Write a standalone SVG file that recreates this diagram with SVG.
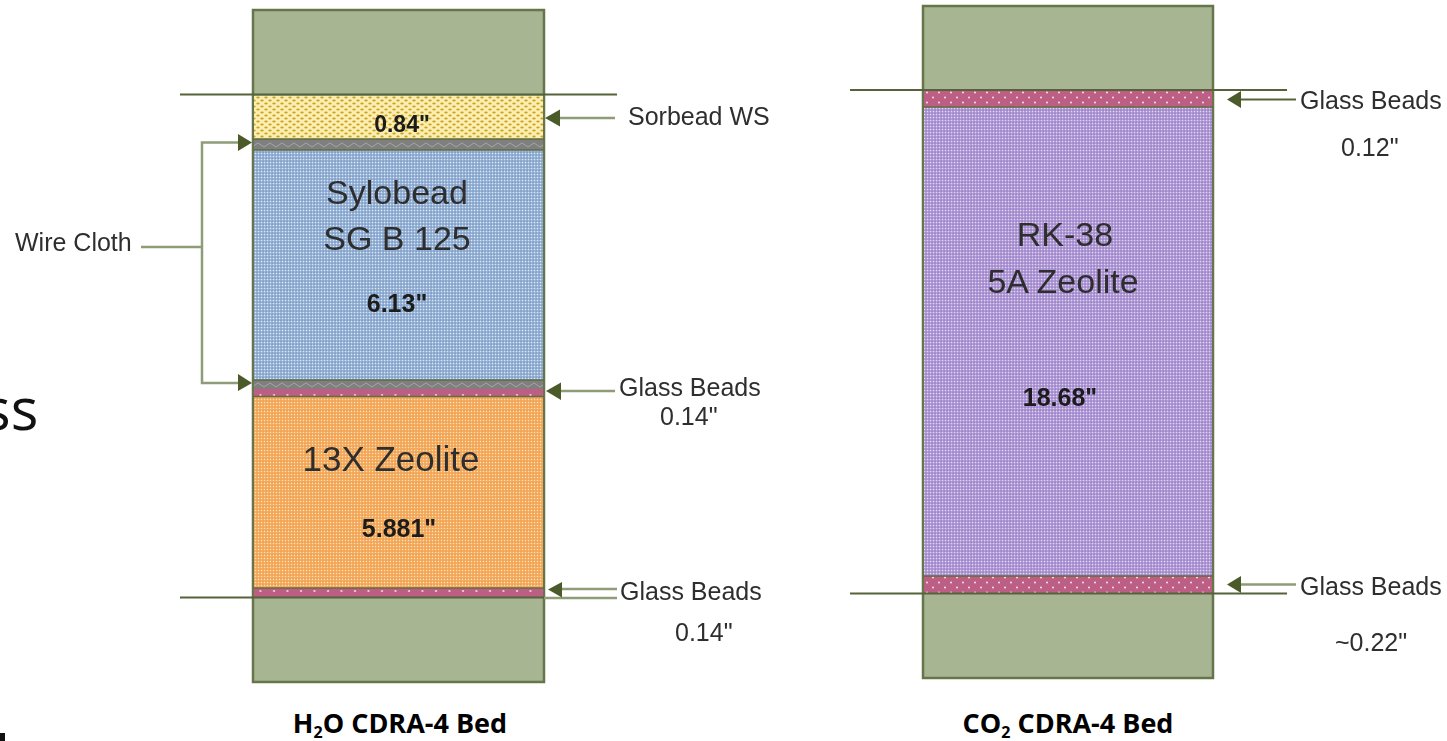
<svg xmlns="http://www.w3.org/2000/svg" width="1447" height="741" viewBox="0 0 1447 741">
<style>
text{font-family:"Liberation Sans",Arial,sans-serif;fill:#2e2e2e}
.soft{filter:url(#soft)}
.lb{font-size:25px}
.big{font-size:34px;text-anchor:middle}
.val{font-size:25px;font-weight:bold;text-anchor:middle;fill:#1a1a1a}
.cap{font-family:"Open Sans","Noto Sans",sans-serif;font-size:27px;font-weight:bold;fill:#000;text-anchor:middle}
.sub{font-size:16px}
.box{stroke:#66754a;stroke-width:2.500}
.ln{stroke:#55623a;stroke-width:2;fill:none}
.lt{stroke:#8f9c78;stroke-width:2.500;fill:none}
.hd{fill:#4a5a28}
</style>
<defs>
<filter id="soft" x="-5%" y="-10%" width="110%" height="120%"><feGaussianBlur stdDeviation="0.45"/></filter>
<pattern id="pY" width="8" height="6" patternUnits="userSpaceOnUse"><rect width="8" height="6" fill="#fbeeb0"/><ellipse cx="2" cy="1.5" rx="1.7" ry="1" fill="#c9a224"/><ellipse cx="6" cy="4.500" rx="1.7" ry="1" fill="#c9a224"/></pattern>
<pattern id="pB" width="3" height="3" patternUnits="userSpaceOnUse"><rect width="3" height="3" fill="#9db8da"/><rect width="1" height="1" fill="#dfe8f2"/><rect x="1.500" y="1.500" width="1.200" height="1.200" fill="#6385b4"/></pattern>
<pattern id="pO" width="3" height="3" patternUnits="userSpaceOnUse"><rect width="3" height="3" fill="#f6b066"/><rect width="1" height="1" fill="#fde2c0"/><rect x="1.500" y="1.500" width="1.200" height="1.200" fill="#ea9640"/></pattern>
<pattern id="pV" width="3" height="3" patternUnits="userSpaceOnUse"><rect width="3" height="3" fill="#b6a0da"/><rect width="1" height="1" fill="#e0d6f0"/><rect x="1.500" y="1.500" width="1.200" height="1.200" fill="#8367b8"/></pattern>
<pattern id="pP" width="13.500" height="7" patternUnits="userSpaceOnUse"><rect width="13.500" height="7" fill="#bd5f85"/><circle cx="4" cy="3" r="1" fill="#f6e3ec"/></pattern>
<pattern id="pP2" width="12" height="10" patternUnits="userSpaceOnUse"><rect width="12" height="10" fill="#bd5f85"/><circle cx="3" cy="2.500" r="1" fill="#f6e3ec"/><circle cx="9" cy="7.500" r="1" fill="#f6e3ec"/></pattern>
<pattern id="pG" width="12" height="10" patternUnits="userSpaceOnUse"><rect width="12" height="10" fill="#7f7f7f"/><path d="M0 7L6 3L12 7" stroke="#a5a5a5" stroke-width="1" fill="none"/></pattern>
</defs>

<g id="ss-fragment"><text x="-17" y="430" font-size="58" style="font-family:'Open Sans','Noto Sans',sans-serif;fill:#111">ss</text><rect x="0" y="733" width="5" height="8" fill="#111"/></g>

<g id="h2o-bed">
<rect class="box" x="253" y="10" width="291" height="672" fill="#a7b592"/>
<rect x="254" y="96" width="289" height="43" fill="url(#pY)"/>
<rect x="254" y="139" width="289" height="11" fill="url(#pG)"/>
<rect x="254" y="150" width="289" height="230" fill="url(#pB)"/>
<rect x="254" y="380" width="289" height="10" fill="url(#pG)"/>
<rect x="254" y="389" width="289" height="7" fill="url(#pP)"/>
<rect x="254" y="396" width="289" height="192" fill="url(#pO)"/>
<rect x="254" y="588" width="289" height="9" fill="url(#pP)"/>
<path d="M253 139H544M253 150H544M253 380H544M253 396.500H544M253 588H544" stroke="#5f6d3f" stroke-width="1.500" fill="none"/>
<g class="soft">
<text class="val" x="402" y="132" style="font-size:23px">0.84"</text>
<text class="big" x="397" y="204">Sylobead</text>
<text class="big" x="397" y="250">SG B 125</text>
<text class="val" x="397" y="312">6.13"</text>
<text class="big" x="391" y="471" style="font-size:35px">13X Zeolite</text>
<text class="val" x="399" y="537">5.881"</text>
</g>
</g>

<g id="co2-bed">
<rect class="box" x="923" y="6" width="290" height="672" fill="#a7b592"/>
<rect x="924" y="90" width="288" height="17" fill="url(#pP2)"/>
<rect x="924" y="107" width="288" height="469" fill="url(#pV)"/>
<rect x="924" y="576" width="288" height="18" fill="url(#pP2)"/>
<path d="M923 107H1213M923 576H1213" stroke="#5f6d3f" stroke-width="1.500" fill="none"/>
<g class="soft">
<text class="big" x="1065" y="246">RK-38</text>
<text class="big" x="1063" y="293">5A Zeolite</text>
<text class="val" x="1060" y="406">18.68"</text>
</g>
</g>

<g id="connectors">
<path class="ln" d="M180 94.500H617M180 597.500H544M850 90H1287M850 593.500H1287"/>
<path class="lt" d="M544 598H617M141 247H202M240 142.500H202V383H240M556 118H615M558 391H615M560 589H617M1240 584.500H1296"/>
<path class="ln" d="M1238 99.500H1296"/>
<path class="hd" d="M252 142.500L238 134V151ZM252 383L238 374V391ZM545 118L560 109.500V126.500ZM546 391L561 382.500V400ZM548 589.500L562 582V597.500ZM1227 99.500L1241 91V108ZM1227 584.500L1241 576V593Z"/>
</g>

<g id="labels">
<g class="soft">
<text class="lb" x="15" y="251">Wire Cloth</text>
<text class="lb" x="628" y="125">Sorbead WS</text>
<text class="lb" x="619" y="396">Glass Beads</text>
<text class="lb" x="660" y="425">0.14"</text>
<text class="lb" x="620" y="600">Glass Beads</text>
<text class="lb" x="675" y="641">0.14"</text>
<text class="lb" x="1300" y="109">Glass Beads</text>
<text class="lb" x="1341" y="156">0.12"</text>
<text class="lb" x="1300" y="595">Glass Beads</text>
<text class="lb" x="1335" y="651">~0.22"</text>
</g>
<text class="cap" x="400" y="733">H<tspan class="sub" dy="5">2</tspan><tspan dy="-5">O CDRA-4 Bed</tspan></text>
<text class="cap" x="1068" y="733">CO<tspan class="sub" dy="5">2</tspan><tspan dy="-5"> CDRA-4 Bed</tspan></text>
</g>
</svg>
